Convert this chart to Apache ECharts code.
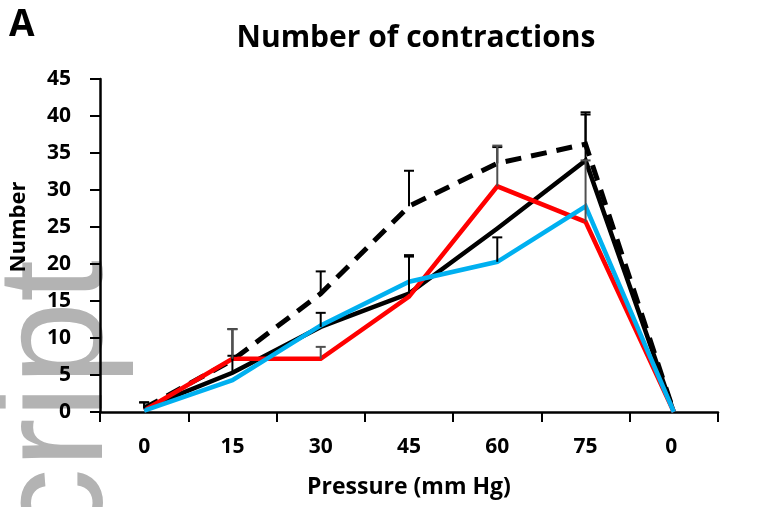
<!DOCTYPE html>
<html>
<head>
<meta charset="utf-8">
<script src="https://cdn.jsdelivr.net/npm/echarts@6/dist/echarts.min.js"></script>
<style>html,body{margin:0;padding:0;background:#fff;}#c{width:757px;height:507px;}</style>
</head>
<body>
<div id="c"></div>
<script>
const categories = ['0', '15', '30', '45', '60', '75', '0 '];
const yTicks = [0, 5, 10, 15, 20, 25, 30, 35, 40, 45];

const dashedValues = [0.5, 7.0, 16.0, 27.8, 33.6, 36.2, 0];
const blackValues  = [0.5, 5.3, 11.5, 16.0, 24.8, 34.0, 0];
const redValues    = [0.2, 7.2, 7.2, 15.6, 30.5, 25.7, 0];
const blueValues   = [0.2, 4.3, 11.7, 17.6, 20.3, 27.8, 0];

// upper error (SEM)
const dashedErr = [0.8, 4.2, 3.0, 4.8, 2.2, 4.0, 0];
const blackErr  = [0.8, 2.3, 1.9, 5.0, 0, 6.5, 0];
const redErr    = [0, 4.0, 1.6, 0, 5.5, 8.3, 0];
const blueErr   = [0, 0, 0, 3.6, 3.3, 0, 0];

function errSeries(vals, errs, color) {
  const data = vals.map((v, i) => [i, v, v + errs[i]]);
  return {
    type: 'custom',
    z: 5,
    silent: true,
    data: data.filter(d => d[2] > d[1]),
    renderItem: function (params, api) {
      const x = api.value(0);
      const lo = api.coord([x, api.value(1)]);
      const hi = api.coord([x, api.value(2)]);
      const w = 5;
      return {
        type: 'group',
        children: [
          { type: 'line', shape: { x1: lo[0], y1: lo[1], x2: hi[0], y2: hi[1] }, style: { stroke: color, lineWidth: 2 } },
          { type: 'line', shape: { x1: hi[0] - w, y1: hi[1], x2: hi[0] + w, y2: hi[1] }, style: { stroke: color, lineWidth: 2 } }
        ]
      };
    }
  };
}

function lineSeries(vals, color, type, width, z) {
  return {
    type: 'line', data: vals, symbol: 'none', z: z,
    lineStyle: { color: color, width: width, type: type, cap: 'butt', join: 'miter' }
  };
}

const chart = echarts.init(document.getElementById('c'), null, { renderer: 'canvas' });
const FONT = '"Open Sans"';
chart.setOption({
  animation: false,
  backgroundColor: '#fff',
  graphic: [
    {
      type: 'text', z: -10, silent: true,
      x: 136, y: 260, rotation: Math.PI / 2,
      style: { text: 'cript', fill: '#b3b3b3', font: '150px "Liberation Sans"', textAlign: 'right', textVerticalAlign: 'bottom' }
    },
    {
      type: 'text', x: 9, y: 7,
      style: { text: 'A', fill: '#000', font: 'bold 37px ' + FONT }
    },
    {
      type: 'text', x: 416, y: 38,
      style: { text: 'Number of contractions', fill: '#000', font: 'bold 30px ' + FONT, textAlign: 'center', textVerticalAlign: 'middle' }
    },
    {
      type: 'text', x: 19, y: 227, rotation: Math.PI / 2,
      style: { text: 'Number', fill: '#000', font: 'bold 22px ' + FONT, textAlign: 'center', textVerticalAlign: 'middle' }
    }
  ],
  grid: { left: 100, right: 39, top: 79, bottom: 95, containLabel: false, outerBoundsMode: 'none' },
  xAxis: {
    type: 'category',
    data: categories,
    boundaryGap: true,
    name: 'Pressure (mm Hg)',
    nameLocation: 'middle',
    nameGap: 64,
    nameTextStyle: { fontFamily: FONT, fontWeight: 'bold', fontSize: 23, color: '#000' },
    axisLine: { lineStyle: { color: '#000', width: 2.5 } },
    axisTick: { show: true, alignWithLabel: false, length: 10, lineStyle: { color: '#000', width: 2 } },
    axisLabel: { margin: 25, fontFamily: FONT, fontWeight: 'bold', fontSize: 21, color: '#000' },
    splitLine: { show: false }
  },
  yAxis: {
    type: 'value',
    min: 0, max: 45, interval: 5,
    axisLine: { show: true, lineStyle: { color: '#000', width: 2.5 } },
    axisTick: { show: true, length: 10, lineStyle: { color: '#000', width: 2 } },
    axisLabel: { margin: 29, fontFamily: FONT, fontWeight: 'bold', fontSize: 21, color: '#000',
      formatter: v => yTicks.indexOf(v) >= 0 ? String(v) : '' },
    splitLine: { show: false }
  },
  series: [
    lineSeries(dashedValues, '#000000', [16, 10], 5, 2),
    lineSeries(blackValues, '#000000', 'solid', 4.5, 3),
    lineSeries(redValues, '#ff0000', 'solid', 4.5, 3),
    lineSeries(blueValues, '#00b0f0', 'solid', 4.5, 4),
    errSeries(dashedValues, dashedErr, '#000000'),
    errSeries(blackValues, blackErr, '#000000'),
    errSeries(redValues, redErr, '#505050'),
    errSeries(blueValues, blueErr, '#000000')
  ]
});
</script>
</body>
</html>
